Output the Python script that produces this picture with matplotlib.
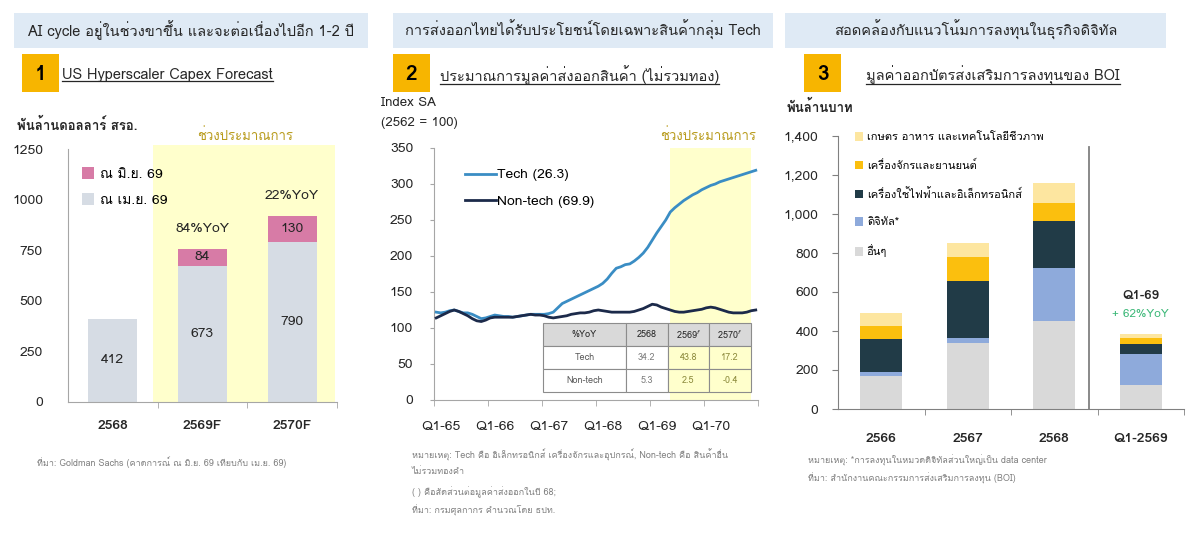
import numpy as np
import matplotlib
matplotlib.use('Agg')
import matplotlib.pyplot as plt
from matplotlib import font_manager
from matplotlib.ft2font import FT2Font
from matplotlib.patches import Rectangle
from matplotlib.lines import Line2D


def thai_fonts():
    '''installed families that have Thai glyphs'''
    names = []
    for f in font_manager.fontManager.ttflist:
        try:
            cmap = FT2Font(f.fname).get_charmap()
        except Exception:
            continue
        if 0x0E01 in cmap and f.name not in names:
            names.append(f.name)
    return names


THAI = thai_fonts()
plt.rcParams['font.family'] = THAI + ['DejaVu Sans']

# ---- data ----
# panel 1: US hyperscaler capex (bn USD)
cap_years = ['2568', '2569F', '2570F']
cap_apr = [412, 673, 790]        # ณ เม.ย. 69
cap_jun_add = [0, 84, 130]       # ณ มิ.ย. 69 (added)
cap_yoy = ['', '84%YoY', '22%YoY']

# panel 2: export index, monthly Jan-65 .. Dec-70
tech = [122, 121, 122, 124, 125, 123, 121, 121, 119, 116, 113, 114,
        116, 118, 117, 116, 116, 115, 116, 117, 118, 119, 119, 119,
        119, 120, 122, 128, 134, 137, 140, 143, 146, 149, 152, 155,
        158, 162, 168, 176, 183, 185, 188, 189, 193, 198, 204, 212,
        222, 232, 241, 250, 261, 267, 272, 277, 281, 285, 288, 292,
        295, 298, 300, 303, 305, 307, 309, 311, 313, 315, 317, 319]
nontech = [114, 117, 120, 123, 125, 123, 120, 117, 113, 110, 109, 111,
           114, 115, 115, 115, 115, 115, 116, 117, 118, 119, 118, 118,
           117, 115, 114, 115, 116, 117, 119, 120, 121, 121, 122, 124,
           125, 124, 123, 122, 122, 122, 122, 122, 123, 125, 127, 130,
           133, 132, 129, 127, 125, 123, 122, 122, 123, 124, 125, 126,
           128, 129, 128, 126, 124, 122, 121, 121, 121, 122, 124, 125]
exp_ticks = ['Q1-65', 'Q1-66', 'Q1-67', 'Q1-68', 'Q1-69', 'Q1-70']
yoy_cols = ['%YoY', '2568', '2569$^f$', '2570$^f$']
yoy_rows = [['Tech', '34.2', '43.8', '17.2'],
            ['Non-tech', '5.3', '2.5', '-0.4']]

# panel 3: BOI investment promotion certificates (bn THB)
boi_years = ['2566', '2567', '2568', 'Q1-2569']
boi_other = [167, 338, 449, 125]
boi_digital = [21, 24, 273, 158]
boi_elec = [170, 292, 244, 50]
boi_mach = [69, 123, 89, 31]
boi_agri = [65, 73, 102, 20]

# ---- layout helpers (pixel coords, origin top-left) ----
W, H = 1200, 547
fig = plt.figure(figsize=(12, 5.47), dpi=100)
DARK = '#262626'
GREY_TXT = '#808080'
SPINE = '#a6a6a6'
SHADE = '#ffffcc'
GOLD_TXT = '#b89b1c'


def fx(x):
    return x / W


def fy(y):
    return 1 - y / H


def axes_px(x0, y0, x1, y1):
    return fig.add_axes([fx(x0), fy(y1), (x1 - x0) / W, (y1 - y0) / H])


def box_px(x0, y0, x1, y1, color):
    fig.patches.append(Rectangle((fx(x0), fy(y1)), (x1 - x0) / W, (y1 - y0) / H,
                                 transform=fig.transFigure, facecolor=color,
                                 edgecolor='none', zorder=0))


def text_px(x, y, s, **kw):
    kw.setdefault('color', DARK)
    kw.setdefault('va', 'center')
    return fig.text(fx(x), fy(y), s, **kw)


titles = []
heads = [(14, 368, 'AI cycle อยู่ในช่วงขาขึ้น และจะต่อเนื่องไปอีก 1-2 ปี'),
         (393, 773, 'การส่งออกไทยได้รับประโยชน์โดยเฉพาะสินค้ากลุ่ม Tech'),
         (785, 1166, 'สอดคล้องกับแนวโน้มการลงทุนในธุรกิจดิจิทัล')]
for x0, x1, s in heads:
    box_px(x0, 13, x1, 48, '#dfeaf5')
    text_px((x0 + x1) / 2, 30, s, ha='center', fontsize=10.5)

nums = [(22, '1', 62, 'US Hyperscaler Capex Forecast'),
        (393, '2', 440, 'ประมาณการมูลค่าส่งออกสินค้า (ไม่รวมทอง)'),
        (804, '3', 866, 'มูลค่าออกบัตรส่งเสริมการลงทุนของ BOI')]
for x0, n, tx, s in nums:
    box_px(x0, 54, x0 + 37, 92, '#f7b500')
    text_px(x0 + 18.5, 74, n, ha='center', fontsize=15, fontweight='bold', color='black')
    titles.append(text_px(tx, 75, s, ha='left', fontsize=10.5))

# ---- panel 1 ----
ax1 = axes_px(68, 149, 337, 402)
x1 = np.arange(len(cap_years))
top1 = np.array(cap_apr) + np.array(cap_jun_add)
ax1.add_patch(Rectangle((0.45, 0), 2.03, 1270, facecolor=SHADE, edgecolor='none',
                        zorder=0, clip_on=False))
ax1.bar(x1, cap_apr, width=0.55, color='#d6dce4', zorder=2, label='ณ เม.ย. 69')
ax1.bar(x1, cap_jun_add, bottom=cap_apr, width=0.55, color='#d77ba6', zorder=2,
        label='ณ มิ.ย. 69')
for i in x1:
    ax1.text(i, cap_apr[i] / 2, str(cap_apr[i]), ha='center', va='center',
             fontsize=10, color=DARK, zorder=3)
    if cap_jun_add[i]:
        ax1.text(i, cap_apr[i] + cap_jun_add[i] / 2, str(cap_jun_add[i]),
                 ha='center', va='center', fontsize=10, color=DARK, zorder=3)
    if cap_yoy[i]:
        ax1.text(i, top1[i] + 100, cap_yoy[i], ha='center', va='center',
                 fontsize=10, color=DARK, zorder=3)
ax1.text(1.47, 1315, 'ช่วงประมาณการ', ha='center', va='center', fontsize=9.5,
         color=GOLD_TXT, clip_on=False)
ax1.set_xlim(-0.5, 2.5)
ax1.set_ylim(0, 1250)
ax1.set_yticks([0, 250, 500, 750, 1000, 1250])
ax1.set_xticks(x1)
ax1.set_xticklabels(cap_years, fontweight='bold')
ax1.set_xticks([0.5, 1.5, 2.5], minor=True)
ax1.tick_params(axis='x', which='major', length=0, pad=13, labelsize=10, colors=DARK)
ax1.tick_params(axis='x', which='minor', length=4, color=SPINE)
ax1.tick_params(axis='y', length=0, pad=18, labelsize=10, colors=DARK)
h, l = ax1.get_legend_handles_labels()
ax1.legend(h[::-1], l[::-1], loc='upper left', bbox_to_anchor=(0.03, 0.95),
           frameon=False, fontsize=10, handlelength=0.9, handleheight=0.9,
           handletextpad=0.4, labelspacing=0.9, borderaxespad=0)
for s in ['top', 'right']:
    ax1.spines[s].set_visible(False)
for s in ['left', 'bottom']:
    ax1.spines[s].set_color(SPINE)
text_px(17, 125, 'พันล้านดอลลาร์ สรอ.', fontsize=9.5, fontweight='bold')
text_px(37, 462, 'ที่มา: Goldman Sachs (คาดการณ์ ณ มิ.ย. 69 เทียบกับ เม.ย. 69)',
        fontsize=6.5, color=GREY_TXT)

# ---- panel 2 ----
ax2 = axes_px(434, 148, 758, 400)
xm = np.arange(len(tech)) + 0.5
ax2.add_patch(Rectangle((52.4, 0), 18.1, 350, facecolor=SHADE, edgecolor='none', zorder=0))
ax2.plot(xm, tech, color='#3a8dc4', lw=2, label='Tech (26.3)', zorder=3)
ax2.plot(xm, nontech, color='#1c2a4a', lw=2, label='Non-tech (69.9)', zorder=3)
ax2.set_xlim(0, 72)
ax2.set_ylim(0, 350)
ax2.set_yticks(np.arange(0, 351, 50))
ax2.set_xticks(np.arange(len(exp_ticks)) * 12 + 1.6)
ax2.set_xticklabels(exp_ticks)
ax2.set_xticks(np.arange(0, 73, 12), minor=True)
ax2.tick_params(axis='x', which='major', length=0, pad=15, labelsize=10, colors=DARK)
ax2.tick_params(axis='x', which='minor', length=4, color=SPINE)
ax2.tick_params(axis='y', length=3, color=SPINE, pad=12, labelsize=10, colors=DARK)
ax2.legend(loc='upper left', bbox_to_anchor=(0.08, 0.94), frameon=False, fontsize=10,
           handlelength=2.2, handletextpad=0.1, labelspacing=1.0, borderaxespad=0)
for s in ['top', 'right']:
    ax2.spines[s].set_visible(False)
for s in ['left', 'bottom']:
    ax2.spines[s].set_color(SPINE)
ax2.text(61, 367, 'ช่วงประมาณการ', ha='center', va='center', fontsize=9.5,
         color=GOLD_TXT, clip_on=False)
tbl = ax2.table(cellText=yoy_rows, colLabels=yoy_cols, cellLoc='center',
                colWidths=[0.4, 0.2, 0.2, 0.2], bbox=[0.336, 0.032, 0.642, 0.273])
tbl.auto_set_font_size(False)
tbl.set_fontsize(6.5)
tbl.set_zorder(4)
for (r, c), cell in tbl.get_celld().items():
    cell.set_edgecolor('#8c8c8c')
    cell.set_linewidth(0.8)
    if r == 0:
        cell.set_facecolor('#d9d9d9')
        cell.get_text().set_color(DARK)
    elif c >= 2:
        cell.set_facecolor(SHADE)
        cell.get_text().set_color('#8c8a3c')
    else:
        cell.set_facecolor('white')
        cell.get_text().set_color('#595959' if c == 0 else '#7f7f7f')
text_px(381, 103, 'Index SA', fontsize=9.5)
text_px(381, 123, '(2562 = 100)', fontsize=9.5)
notes2 = ['หมายเหตุ: Tech คือ อิเล็กทรอนิกส์ เครื่องจักรและอุปกรณ์, Non-tech คือ สินค้าอื่น',
          'ไม่รวมทองคำ', '( ) คือสัดส่วนต่อมูลค่าส่งออกในปี 68;',
          'ที่มา: กรมศุลกากร คำนวณโดย ธปท.']
for yy, s in zip([455, 472, 492, 510], notes2):
    text_px(412, yy, s, fontsize=6.5, color=GREY_TXT)

# ---- panel 3 ----
ax3 = axes_px(838, 136, 1184, 409)
x3 = np.arange(len(boi_years))
stack = [(boi_other, '#d9d9d9', 'อื่นๆ'),
         (boi_digital, '#8eaadb', 'ดิจิทัล*'),
         (boi_elec, '#213b47', 'เครื่องใช้ไฟฟ้าและอิเล็กทรอนิกส์'),
         (boi_mach, '#fbbf0e', 'เครื่องจักรและยานยนต์'),
         (boi_agri, '#fde6a0', 'เกษตร อาหาร และเทคโนโลยีชีวภาพ')]
bottom = np.zeros(len(boi_years))
for vals, col, lab in stack:
    ax3.bar(x3, vals, bottom=bottom, width=0.48, color=col, label=lab, zorder=2)
    bottom += np.array(vals)
ax3.axvline(2.4, ymin=0, ymax=0.96, color='#808080', lw=1.3)
ax3.text(3, 579, 'Q1-69', ha='center', va='center', fontsize=9.5, fontweight='bold', color=DARK)
ax3.text(3, 487, '+ 62%YoY', ha='center', va='center', fontsize=8.5, color='#3cb878')
ax3.set_xlim(-0.5, 3.5)
ax3.set_ylim(0, 1400)
ax3.set_yticks(np.arange(0, 1401, 200))
ax3.set_yticklabels([f'{v:,}' for v in np.arange(0, 1401, 200)])
ax3.set_xticks(x3)
ax3.set_xticklabels(boi_years, fontweight='bold')
ax3.set_xticks([0.5, 1.5, 2.5, 3.5], minor=True)
ax3.tick_params(axis='x', which='major', length=0, pad=17, labelsize=10, colors=DARK)
ax3.tick_params(axis='x', which='minor', length=4, color='#808080')
ax3.tick_params(axis='y', length=4, color='#808080', pad=10, labelsize=10, colors=DARK)
h, l = ax3.get_legend_handles_labels()
ax3.legend(h[::-1], l[::-1], loc='upper left', bbox_to_anchor=(0.035, 1.03),
           frameon=False, fontsize=8, handlelength=0.8, handleheight=0.8,
           handletextpad=0.3, labelspacing=1.55, borderaxespad=0)
for s in ['top', 'right']:
    ax3.spines[s].set_visible(False)
for s in ['left', 'bottom']:
    ax3.spines[s].set_color('#808080')
text_px(787, 107, 'พันล้านบาท', fontsize=9.5, fontweight='bold')
text_px(808, 460, 'หมายเหตุ: *การลงทุนในหมวดดิจิทัลส่วนใหญ่เป็น data center',
        fontsize=6.5, color=GREY_TXT)
text_px(808, 478, 'ที่มา: สำนักงานคณะกรรมการส่งเสริมการลงทุน (BOI)',
        fontsize=6.5, color=GREY_TXT)

# underline the numbered titles
fig.canvas.draw()
r = fig.canvas.get_renderer()
for t in titles:
    bb = t.get_window_extent(r)
    fig.add_artist(Line2D([bb.x0 / W, bb.x1 / W], [(bb.y0 + 1) / H] * 2,
                          transform=fig.transFigure, color=DARK, lw=0.9))

fig.savefig('out.png', dpi=100)
